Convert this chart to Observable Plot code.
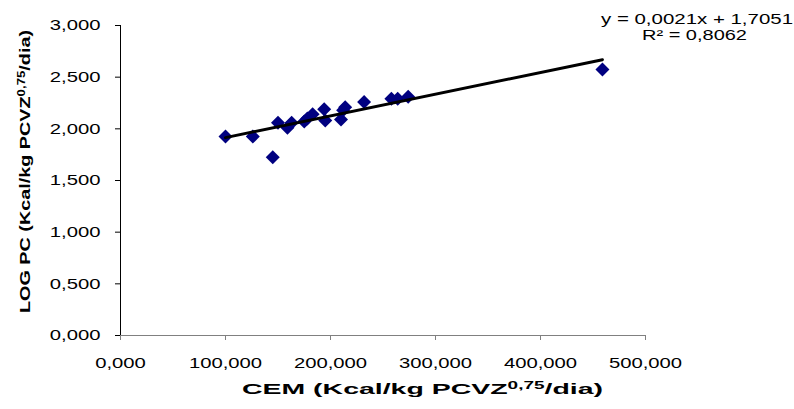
<!DOCTYPE html>
<html>
<head>
<meta charset="utf-8">
<script src="https://cdn.jsdelivr.net/npm/d3@7"></script>
<script src="https://cdn.jsdelivr.net/npm/@observablehq/plot@0.6"></script>
<style>
  html, body { margin: 0; padding: 0; background: #fff; }
  svg { display: block; }
</style>
</head>
<body>
<script>
// CEM (Kcal/kg PCVZ^0,75/dia)
const cem = [100, 126, 145, 150, 159, 163, 175, 178, 183, 194, 195, 210, 212, 214, 232, 258, 264, 274, 459];
// LOG PC (Kcal/kg PCVZ^0,75/dia)
const logPC = [1.925, 1.925, 1.725, 2.06, 2.01, 2.06, 2.07, 2.10, 2.14, 2.19, 2.08, 2.09, 2.18, 2.21, 2.26, 2.29, 2.29, 2.31, 2.575];
const xTicks = [0, 100, 200, 300, 400, 500];
const yTicks = [0, 0.5, 1, 1.5, 2, 2.5, 3];
const trendSlope = 0.0021;
const trendIntercept = 1.7051;
const eqLine1 = "y = 0,0021x + 1,7051";
const eqLine2 = "R² = 0,8062";

const points = cem.map((x, i) => ({x, y: logPC[i]}));
const xExt = d3.extent(cem);
const trend = xExt.map(x => ({x, y: trendSlope * x + trendIntercept}));
const fmt = d => d.toFixed(3).replace(".", ",");

const chart = Plot.plot({
  width: 794,
  height: 409,
  marginLeft: 120,
  marginRight: 149,
  marginTop: 25,
  marginBottom: 74,
  style: {fontFamily: "'Liberation Sans', Arial, sans-serif", fontSize: "15px", color: "#000", background: "#fff"},
  x: {domain: [0, 500]},
  y: {domain: [0, 3]},
  marks: [
    Plot.axisX({ticks: xTicks, tickFormat: fmt, tickSize: 5, tickPadding: 17, stroke: "#808080", label: null}),
    Plot.axisY({ticks: yTicks, tickFormat: fmt, tickSize: 5, tickPadding: 15, stroke: "#000", label: null}),
    Plot.ruleY([0], {stroke: "#808080", strokeWidth: 1}),
    Plot.ruleX([0], {stroke: "#000", strokeWidth: 1}),
    Plot.dot(points, {x: "x", y: "y", symbol: "diamond2", r: 6.3, fill: "#000080", stroke: "none"}),
    Plot.line(trend, {x: "x", y: "y", stroke: "#000", strokeWidth: 3})
  ]
});
document.body.appendChild(chart);

// stretch tick labels horizontally like the original rendering
chart.querySelectorAll('g[aria-label="x-axis tick label"] text, g[aria-label="y-axis tick label"] text').forEach(t => {
  const w = t.getComputedTextLength();
  t.setAttribute("textLength", (w * 1.35).toFixed(1));
  t.setAttribute("lengthAdjust", "spacingAndGlyphs");
});

const svg = d3.select(chart);
const font = "'Liberation Sans', Arial, sans-serif";

function titleWithSup(sel, before, sup, after) {
  sel.append("tspan").text(before);
  sel.append("tspan").attr("font-size", "10px").attr("baseline-shift", "5px").text(sup);
  sel.append("tspan").text(after);
}

// X axis title
const xt = svg.append("text")
  .attr("x", 242).attr("y", 394)
  .attr("text-anchor", "start")
  .attr("font-family", font).attr("font-size", "15px").attr("font-weight", "bold")
  .attr("fill", "#000")
  .attr("textLength", 361).attr("lengthAdjust", "spacingAndGlyphs");
titleWithSup(xt, "CEM (Kcal/kg PCVZ", "0,75", "/dia)");

// Y axis title
const yt = svg.append("text")
  .attr("transform", "translate(30,313) rotate(-90)")
  .attr("text-anchor", "start")
  .attr("font-family", font).attr("font-size", "15px").attr("font-weight", "bold")
  .attr("fill", "#000")
  .attr("textLength", 283).attr("lengthAdjust", "spacingAndGlyphs");
titleWithSup(yt, "LOG PC (Kcal/kg PCVZ", "0,75", "/dia)");

// Equation
svg.append("text")
  .attr("x", 601).attr("y", 23.5)
  .attr("text-anchor", "start")
  .attr("font-family", font).attr("font-size", "15px").attr("fill", "#000")
  .attr("textLength", 192).attr("lengthAdjust", "spacingAndGlyphs")
  .text(eqLine1);
svg.append("text")
  .attr("x", 642).attr("y", 39.5)
  .attr("text-anchor", "start")
  .attr("font-family", font).attr("font-size", "15px").attr("fill", "#000")
  .attr("textLength", 105).attr("lengthAdjust", "spacingAndGlyphs")
  .text(eqLine2);
</script>
</body>
</html>
